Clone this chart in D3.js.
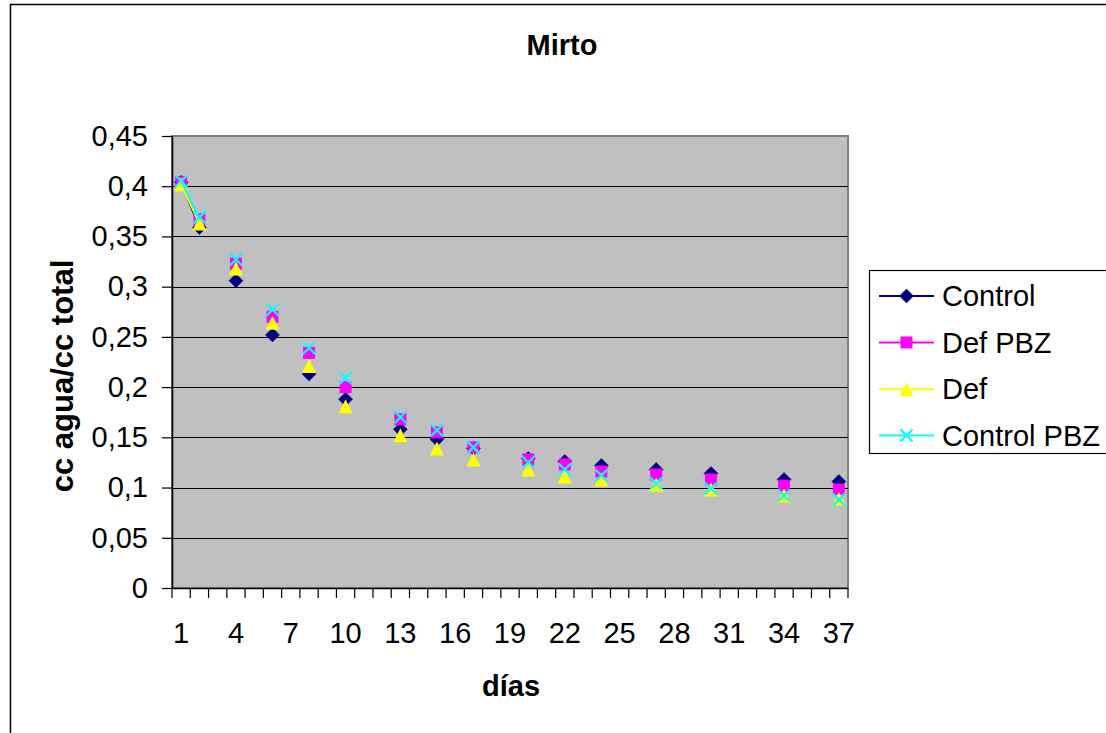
<!DOCTYPE html>
<html>
<head>
<meta charset="utf-8">
<script src="https://cdn.jsdelivr.net/npm/d3@7"></script>
<style>
  html, body { margin: 0; padding: 0; background: #fff; }
  svg { display: block; font-family: "Liberation Sans", Arial, sans-serif; }
</style>
</head>
<body>
<svg id="chart" width="1106" height="733"></svg>
<script>
// Category axis: every day from 1 to 37
const categories = d3.range(1, 38);
const tickLabels = [1, 4, 7, 10, 13, 16, 19, 22, 25, 28, 31, 34, 37];
const yTicks = [0, 0.05, 0.1, 0.15, 0.2, 0.25, 0.3, 0.35, 0.4, 0.45];

// Days with a measurement
const measuredDays = [1, 2, 4, 6, 8, 10, 13, 15, 17, 20, 22, 24, 27, 30, 34, 37];

// Water fraction (cc agua / cc total) per treatment
const control    = [0.404, 0.359, 0.306, 0.252, 0.213, 0.188, 0.158, 0.148, 0.139, 0.129, 0.126, 0.122, 0.118, 0.114, 0.108, 0.106];
const defPBZ     = [0.404, 0.367, 0.323, 0.270, 0.234, 0.200, 0.168, 0.155, 0.140, 0.128, 0.123, 0.116, 0.113, 0.108, 0.102, 0.098];
const def        = [0.402, 0.363, 0.318, 0.264, 0.221, 0.181, 0.152, 0.139, 0.128, 0.118, 0.111, 0.108, 0.103, 0.098, 0.092, 0.089];
const controlPBZ = [0.405, 0.369, 0.327, 0.277, 0.239, 0.209, 0.170, 0.157, 0.140, 0.125, 0.118, 0.112, 0.104, 0.099, 0.092, 0.088];

const seriesNames = ["Control", "Def PBZ", "Def", "Control PBZ"];
const seriesColors = ["#000080", "#FF00FF", "#FFFF00", "#00FFFF"];
const seriesMarkers = ["diamond", "square", "triangle", "cross"];
const seriesValues = [control, defPBZ, def, controlPBZ];

const svg = d3.select("#chart");
const plot = { left: 172, right: 848, top: 136, bottom: 588 };
const FONT = 29;

// Chart area frame
svg.append("rect")
  .attr("x", 10.5).attr("y", 4.5)
  .attr("width", 1300).attr("height", 1000)
  .attr("fill", "#fff").attr("stroke", "#000").attr("stroke-width", 1.5);

const x = d3.scaleBand().domain(categories).range([plot.left, plot.right]).padding(0);
const y = d3.scaleLinear().domain([0, 0.45]).range([plot.bottom, plot.top]);

// Plot area background
svg.append("rect")
  .attr("x", plot.left).attr("y", plot.top)
  .attr("width", plot.right - plot.left).attr("height", plot.bottom - plot.top)
  .attr("fill", "#C0C0C0").attr("stroke", "#808080").attr("stroke-width", 2);

// Horizontal gridlines
svg.append("g")
  .selectAll("line")
  .data(yTicks.filter(t => t > 0 && t < 0.45))
  .join("line")
  .attr("x1", plot.left).attr("x2", plot.right)
  .attr("y1", d => Math.round(y(d)) + 0.5).attr("y2", d => Math.round(y(d)) + 0.5)
  .attr("stroke", "#000").attr("stroke-width", 1.2);

// Y axis
const yAxis = svg.append("g")
  .attr("transform", `translate(${plot.left},0)`)
  .call(d3.axisLeft(y).tickValues(yTicks).tickSize(10).tickPadding(14)
    .tickFormat(d => d3.format("")(+d.toFixed(2)).replace(".", ",")));
yAxis.selectAll("text").attr("font-size", FONT).attr("fill", "#000").attr("font-family", "Liberation Sans, Arial, sans-serif");
yAxis.selectAll("line").attr("stroke", "#000").attr("stroke-width", 1.2);
yAxis.select(".domain").attr("stroke", "#000").attr("stroke-width", 1.5).attr("d", `M0.5,${plot.top}V${plot.bottom}`);

// X axis: tick marks between categories, labels every third day
const xAxisG = svg.append("g").attr("transform", `translate(0,${plot.bottom})`);
xAxisG.append("line")
  .attr("x1", plot.left).attr("x2", plot.right)
  .attr("y1", 0.5).attr("y2", 0.5)
  .attr("stroke", "#000").attr("stroke-width", 1.5);
const boundaries = categories.map(c => x(c)).concat([x(categories[categories.length - 1]) + x.bandwidth()]);
xAxisG.selectAll("line.tick")
  .data(boundaries)
  .join("line")
  .attr("class", "tick")
  .attr("x1", d => d).attr("x2", d => d)
  .attr("y1", 0).attr("y2", 10)
  .attr("stroke", "#000").attr("stroke-width", 1.2);
xAxisG.selectAll("text")
  .data(tickLabels)
  .join("text")
  .attr("x", d => x(d) + x.bandwidth() / 2)
  .attr("y", 55)
  .attr("text-anchor", "middle")
  .attr("font-size", FONT)
  .text(d => d);

// Titles
svg.append("text")
  .attr("x", 562).attr("y", 55)
  .attr("text-anchor", "middle")
  .attr("font-size", FONT).attr("font-weight", "bold")
  .text("Mirto");
svg.append("text")
  .attr("x", 511).attr("y", 696)
  .attr("text-anchor", "middle")
  .attr("font-size", FONT).attr("font-weight", "bold")
  .text("días");
svg.append("text")
  .attr("transform", `translate(73,376) rotate(-90)`)
  .attr("text-anchor", "middle")
  .attr("font-size", 31).attr("font-weight", "bold")
  .text("cc agua/cc total");

// Marker drawing
function drawMarker(g, type, color) {
  if (type === "diamond") {
    g.append("path").attr("d", "M0,-7L7,0L0,7L-7,0Z").attr("fill", color).attr("stroke", color).attr("stroke-width", 0.5);
  } else if (type === "square") {
    g.append("rect").attr("x", -6).attr("y", -6).attr("width", 12).attr("height", 12).attr("fill", color);
  } else if (type === "triangle") {
    g.append("path").attr("d", "M0,-7L7,7L-7,7Z").attr("fill", color);
  } else if (type === "cross") {
    g.append("path").attr("d", "M-6,-6L6,6M-6,6L6,-6").attr("stroke", color).attr("stroke-width", 2.2).attr("fill", "none");
  }
}

// Series: lines join only consecutive days, markers at each measured day
const cx = d => x(d) + x.bandwidth() / 2;
seriesValues.forEach((vals, si) => {
  const byDay = new Map(measuredDays.map((d, i) => [d, vals[i]]));
  const full = categories.map(d => ({ day: d, v: byDay.has(d) ? byDay.get(d) : null }));
  const line = d3.line()
    .x(p => cx(p.day))
    .y(p => y(p.v));
  // split into runs of consecutive measured days; single points get no line
  const segs = [];
  let cur = [];
  full.forEach(p => {
    if (p.v === null) { if (cur.length > 1) segs.push(cur); cur = []; }
    else cur.push(p);
  });
  if (cur.length > 1) segs.push(cur);
  const g = svg.append("g");
  segs.forEach(s => {
    g.append("path").attr("d", line(s)).attr("fill", "none")
      .attr("stroke", seriesColors[si]).attr("stroke-width", 2);
  });
  measuredDays.forEach((d, i) => {
    const m = g.append("g").attr("transform", `translate(${cx(d)},${y(vals[i])})`);
    drawMarker(m, seriesMarkers[si], seriesColors[si]);
  });
});

// Legend
const legend = { x: 869.5, y: 270.5, w: 240, h: 183 };
svg.append("rect")
  .attr("x", legend.x).attr("y", legend.y)
  .attr("width", legend.w).attr("height", legend.h)
  .attr("fill", "#fff").attr("stroke", "#000").attr("stroke-width", 1.2);
seriesNames.forEach((name, i) => {
  const cy = 296 + i * 46.5;
  const g = svg.append("g");
  g.append("line").attr("x1", 879).attr("x2", 934).attr("y1", cy).attr("y2", cy)
    .attr("stroke", seriesColors[i]).attr("stroke-width", 2);
  const m = g.append("g").attr("transform", `translate(906.5,${cy})`);
  drawMarker(m, seriesMarkers[i], seriesColors[i]);
  g.append("text").attr("x", 942).attr("y", cy + 10)
    .attr("font-size", FONT).text(name);
});
</script>
</body>
</html>
